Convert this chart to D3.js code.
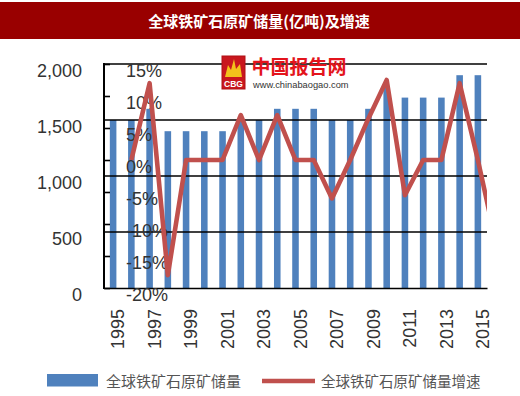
<!DOCTYPE html>
<html><head><meta charset="utf-8">
<script src="https://cdn.jsdelivr.net/npm/d3@7"></script>
<style>html,body{margin:0;padding:0;background:#fff;} svg{display:block;}</style>
</head><body>
<svg id="chart" width="520" height="396"></svg>
<script>
// ---- data ----
const title = "全球铁矿石原矿储量(亿吨)及增速";
const years = [1995,1996,1997,1998,1999,2000,2001,2002,2003,2004,2005,2006,2007,2008,2009,2010,2011,2012,2013,2014,2015];
const reserves = [1500,1500,1600,1400,1400,1400,1400,1500,1500,1600,1600,1600,1500,1500,1600,1800,1700,1700,1700,1900,1900];
const growthYears = [1996,1997,1998,1999,2000,2001,2002,2003,2004,2005,2006,2007,2008,2009,2010,2011,2012,2013,2014,2015,2016];
const growth = [0,12,-18,0,0,0,7,0,7,0,0,-6,0,6.5,12.5,-5.5,0,0,12,0,-13];
const leftTicks = [0,500,1000,1500,2000];
const rightTicks = [-20,-15,-10,-5,0,5,10,15];
const xLabels = [1995,1997,1999,2001,2003,2005,2007,2009,2011,2013,2015];
const seriesNames = ["全球铁矿石原矿储量","全球铁矿石原矿储量增速"];
const logoText = "中国报告网";
const logoUrl = "www.chinabaogao.com";

// ---- styles ----
const BLUE = "#4F81BD", RED = "#C0504D";
const NUM_FONT = "'Liberation Sans', Arial, sans-serif";
const CJK_FONT = "'Noto Sans CJK SC', sans-serif";

const svg = d3.select("#chart");
const L = 104, R = 487, T = 64, B = 288;

const x = d3.scaleBand().domain(years).range([L, R]).paddingInner(0.64).paddingOuter(0.32);
const xc = d => x(d) + x.bandwidth() / 2;
const xLine = d3.scaleLinear().domain([years[0], years[years.length - 1]])
  .range([xc(years[0]), xc(years[years.length - 1])]);
const yL = d3.scaleLinear().domain([0, 2000]).range([B, T]);
const yR = d3.scaleLinear().domain([-20, 15]).range([B, T]);

// title bar
svg.append("rect").attr("x", 0).attr("y", 2).attr("width", 520).attr("height", 37).attr("fill", "#990000");
svg.append("text").attr("x", 259).attr("y", 26.5).attr("text-anchor", "middle")
  .attr("font-family", CJK_FONT).attr("font-weight", "bold").attr("font-size", 15)
  .attr("fill", "#fff").text(title);

// bars
svg.append("g").selectAll("rect").data(years).join("rect")
  .attr("x", d => x(d)).attr("width", x.bandwidth())
  .attr("y", (d, i) => yL(reserves[i])).attr("height", (d, i) => yL(0) - yL(reserves[i]))
  .attr("fill", BLUE);

// gridlines
svg.append("g").selectAll("line").data(leftTicks.filter(d => d > 0)).join("line")
  .attr("x1", L).attr("x2", R).attr("y1", d => yL(d)).attr("y2", d => yL(d))
  .attr("stroke", "#000").attr("stroke-width", 1.6);

// left axis
const gl = svg.append("g").attr("transform", `translate(${L},0)`)
  .call(d3.axisLeft(yL).tickValues(leftTicks).tickFormat(d3.format(",")).tickSize(0).tickPadding(22));
gl.select(".domain").remove();
gl.selectAll("text").attr("dy", "12.4px").attr("font-family", NUM_FONT).attr("font-size", 18).attr("fill", "#333");

// bottom axis
const gb = svg.append("g").attr("transform", `translate(0,${B})`)
  .call(d3.axisBottom(x).tickValues(xLabels).tickSize(0).tickSizeOuter(0));
gb.select(".domain").attr("stroke", "#000").attr("stroke-width", 1.6);
gb.selectAll(".tick text").attr("x", 0).attr("y", 0).attr("dy", "11.2px")
  .attr("text-anchor", "end").attr("transform", "translate(0,21) rotate(-90)")
  .attr("font-family", NUM_FONT).attr("font-size", 18).attr("fill", "#333");

// right (secondary) axis drawn inside the plot
const gr = svg.append("g").attr("transform", `translate(${L},0)`)
  .call(d3.axisRight(yR).tickValues(rightTicks).tickFormat(d => d + "%").tickSize(6).tickPadding(16));
gr.select(".domain").remove();
gr.selectAll(".tick line").attr("stroke", "#000").attr("stroke-width", 1.6);
gr.selectAll("text").attr("dy", "12.4px").attr("font-family", NUM_FONT).attr("font-size", 18).attr("fill", "#333");

// left axis line
svg.append("line").attr("x1", L).attr("x2", L).attr("y1", T - 1).attr("y2", B + 1)
  .attr("stroke", "#000").attr("stroke-width", 2);

// growth line
svg.append("clipPath").attr("id", "plotClip").append("rect")
  .attr("x", L).attr("y", 40).attr("width", R - L).attr("height", 300);
const line = d3.line().x((d, i) => xLine(growthYears[i])).y(d => yR(d));
svg.append("path").datum(growth).attr("d", line).attr("clip-path", "url(#plotClip)")
  .attr("fill", "none").attr("stroke", RED).attr("stroke-width", 4.6).attr("stroke-linejoin", "round");

// logo
const lg = svg.append("g").attr("transform", "translate(222,56)");
lg.append("rect").attr("width", 23).attr("height", 33).attr("fill", "#C9171E").attr("stroke", "#B01015");
lg.append("path").attr("d", "M3,21 L6,9 L9,14 L12,3 L14,13 L18,8 L20,21 Z").attr("fill", "#F3C21B");
lg.append("text").attr("x", 11.5).attr("y", 30.5).attr("text-anchor", "middle")
  .attr("font-family", NUM_FONT).attr("font-weight", "bold").attr("font-size", 8.5).attr("fill", "#fff").text("CBG");
svg.append("text").attr("x", 251.5).attr("y", 73.5).attr("font-family", CJK_FONT).attr("font-weight", "bold")
  .attr("font-size", 19).attr("fill", "#E3141C").text(logoText);
svg.append("text").attr("x", 253).attr("y", 88).attr("font-family", NUM_FONT)
  .attr("font-size", 9.3).attr("fill", "#333").text(logoUrl);

// legend
svg.append("rect").attr("x", 47).attr("y", 374).attr("width", 51).attr("height", 12.5).attr("fill", BLUE);
svg.append("text").attr("x", 106).attr("y", 382).attr("dy", "0.36em").attr("font-family", CJK_FONT)
  .attr("font-size", 15).attr("fill", "#555").text(seriesNames[0]);
svg.append("line").attr("x1", 262).attr("x2", 315).attr("y1", 381).attr("y2", 381)
  .attr("stroke", RED).attr("stroke-width", 4.6);
svg.append("text").attr("x", 321).attr("y", 382).attr("dy", "0.36em").attr("font-family", CJK_FONT)
  .attr("font-size", 14.5).attr("fill", "#555").text(seriesNames[1]);
</script>
</body></html>
